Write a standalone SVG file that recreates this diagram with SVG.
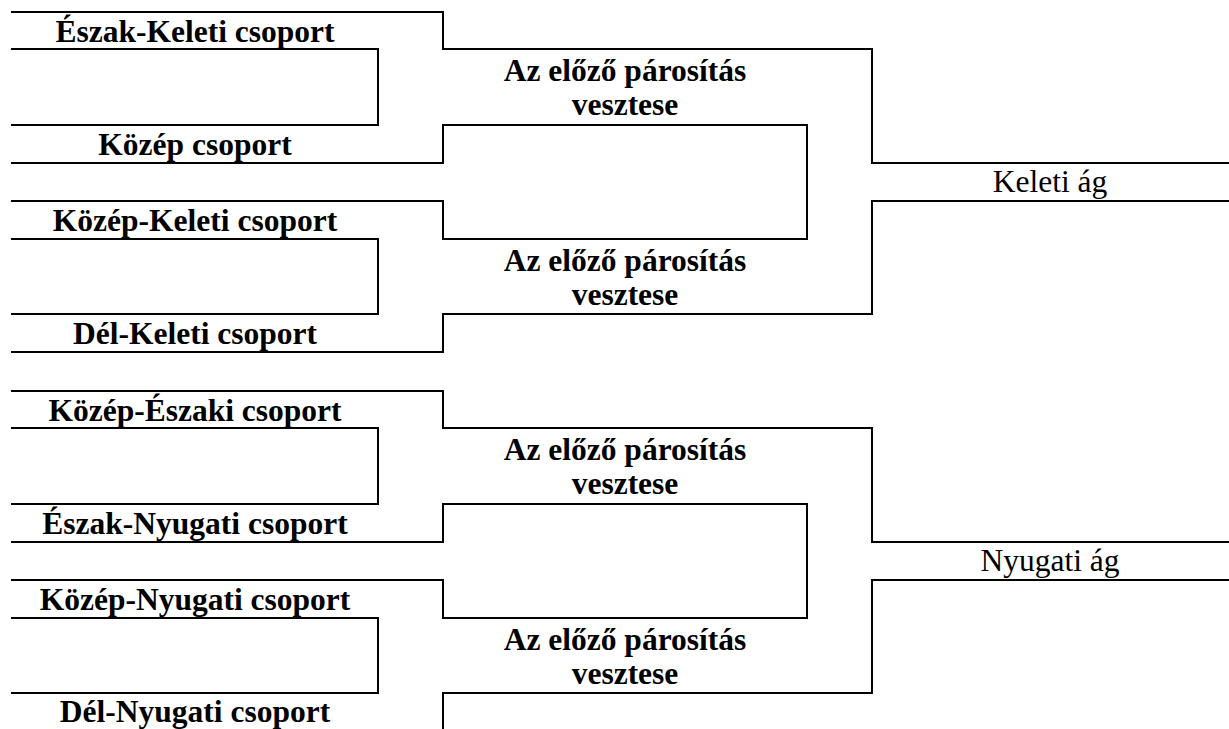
<svg xmlns="http://www.w3.org/2000/svg" width="1229" height="729" viewBox="0 0 1229 729">
<style>
  .ln { fill: none; stroke: #000; stroke-width: 2; stroke-linecap: square; }
  .t { font-family: "Liberation Serif", "Times New Roman", serif; font-size: 31.5px; font-weight: bold; fill: #000; text-anchor: middle; }
  .r { font-family: "Liberation Serif", "Times New Roman", serif; font-size: 31.5px; font-weight: normal; fill: #000; text-anchor: middle; }
</style>
<rect width="1229" height="729" fill="#fff"/>
<g id="connectors">
  <path class="ln" d="M12 12 H443 V49 H872 V163 H1229"/>
  <path class="ln" d="M12 49 H378 V125 H12"/>
  <path class="ln" d="M12 163 H443 V125 H807 V239 H443 V201 H12"/>
  <path class="ln" d="M1229 201 H872 V314 H443 V352 H12"/>
  <path class="ln" d="M12 239 H378 V314 H12"/>
  <path class="ln" d="M12 391 H443 V428 H872 V542 H1229"/>
  <path class="ln" d="M12 428 H378 V504 H12"/>
  <path class="ln" d="M12 542 H443 V504 H807 V618 H443 V580 H12"/>
  <path class="ln" d="M1229 580 H872 V693 H443 V731"/>
  <path class="ln" d="M12 618 H378 V693 H12"/>
</g>
<g id="n-eszak-keleti"><text class="t" x="195" y="42">Észak-Keleti csoport</text></g>
<g id="n-kozep"><text class="t" x="195" y="155">Közép csoport</text></g>
<g id="n-kozep-keleti"><text class="t" x="195" y="231">Közép-Keleti csoport</text></g>
<g id="n-del-keleti"><text class="t" x="195" y="344">Dél-Keleti csoport</text></g>
<g id="n-vesztes-1"><text class="t" x="625" y="81">Az előző párosítás</text><text class="t" x="625" y="115">vesztese</text></g>
<g id="n-vesztes-2"><text class="t" x="625" y="271">Az előző párosítás</text><text class="t" x="625" y="305">vesztese</text></g>
<g id="n-keleti-ag"><text class="r" x="1050" y="192">Keleti ág</text></g>
<g id="n-kozep-eszaki"><text class="t" x="195" y="421">Közép-Északi csoport</text></g>
<g id="n-eszak-nyugati"><text class="t" x="195" y="534">Észak-Nyugati csoport</text></g>
<g id="n-kozep-nyugati"><text class="t" x="195" y="610">Közép-Nyugati csoport</text></g>
<g id="n-del-nyugati"><text class="t" x="195" y="722">Dél-Nyugati csoport</text></g>
<g id="n-vesztes-3"><text class="t" x="625" y="460">Az előző párosítás</text><text class="t" x="625" y="494">vesztese</text></g>
<g id="n-vesztes-4"><text class="t" x="625" y="650">Az előző párosítás</text><text class="t" x="625" y="684">vesztese</text></g>
<g id="n-nyugati-ag"><text class="r" x="1050" y="571">Nyugati ág</text></g>
</svg>
